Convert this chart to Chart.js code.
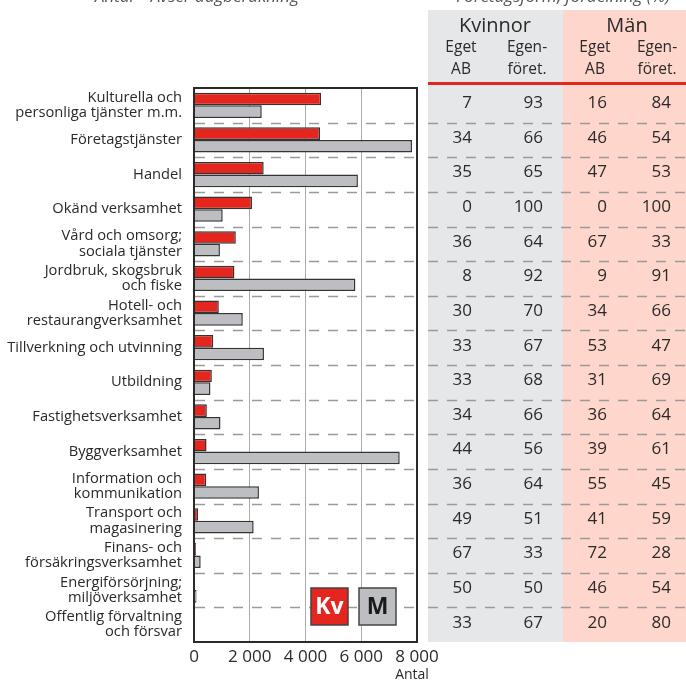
<!DOCTYPE html>
<html>
<head>
<meta charset="utf-8">
<script src="https://cdn.jsdelivr.net/npm/chart.js@4"></script>
<style>
  html, body { margin: 0; padding: 0; background: #fff; }
  #wrap { width: 686px; height: 682px; position: relative; }
</style>
</head>
<body>
<div id="wrap"><canvas id="chart"></canvas></div>
<script>
// ===== data =====
const categories = [
  ['Kulturella och', 'personliga tjänster m.m.'],
  'Företagstjänster',
  'Handel',
  'Okänd verksamhet',
  ['Vård och omsorg;', 'sociala tjänster'],
  ['Jordbruk, skogsbruk', 'och fiske'],
  ['Hotell- och', 'restaurangverksamhet'],
  'Tillverkning och utvinning',
  'Utbildning',
  'Fastighetsverksamhet',
  'Byggverksamhet',
  ['Information och', 'kommunikation'],
  ['Transport och', 'magasinering'],
  ['Finans- och', 'försäkringsverksamhet'],
  ['Energiförsörjning;', 'miljöverksamhet'],
  ['Offentlig förvaltning', 'och försvar']
];
const kvinnor = [4560, 4520, 2500, 2080, 1500, 1450, 890, 690, 640, 460, 450, 440, 150, 70, 25, 10];
const man     = [2430, 7820, 5880, 1030, 930, 5790, 1750, 2510, 590, 950, 7380, 2330, 2140, 240, 90, 10];

// fördelning (%)
const kvEgetAB   = [7, 34, 35, 0, 36, 8, 30, 33, 33, 34, 44, 36, 49, 67, 50, 33];
const kvEgenfor  = [93, 66, 65, 100, 64, 92, 70, 67, 68, 66, 56, 64, 51, 33, 50, 67];
const manEgetAB  = [16, 46, 47, 0, 67, 9, 34, 53, 31, 36, 39, 55, 41, 72, 46, 20];
const manEgenfor = [84, 54, 53, 100, 33, 91, 66, 47, 69, 64, 61, 45, 59, 28, 54, 80];

const xTicks = [0, 2000, 4000, 6000, 8000];

const RED = '#e4261e';
const GREY = '#bdbec1';
const INK = '#2b2a29';
const FONT = "'Open Sans', 'Noto Sans', sans-serif";

function fmt(v) {
  return String(v).replace(/\B(?=(\d{3})+(?!\d))/g, ' ');
}

// ===== plugin: frame, dashes, legend, table =====
const extras = {
  id: 'extras',
  beforeDatasetsDraw(chart) {
    const { ctx, chartArea: a, scales: { y } } = chart;
    ctx.save();
    // table backgrounds
    ctx.fillStyle = '#e6e7e9';
    ctx.fillRect(428, 10, 135, a.bottom - 10);
    ctx.fillStyle = '#fed6cc';
    ctx.fillRect(563, 10, 123, a.bottom - 10);
    // dashed row separators
    ctx.strokeStyle = '#9a9a9a';
    ctx.lineWidth = 1.5;
    ctx.setLineDash([10, 9]);
    for (let i = 0; i < categories.length - 1; i++) {
      const yy = Math.round((y.getPixelForValue(i) + y.getPixelForValue(i + 1)) / 2) + 0.5;
      ctx.beginPath();
      ctx.moveTo(a.left + 1, yy);
      ctx.lineTo(a.right, yy);
      ctx.stroke();
      ctx.beginPath();
      ctx.moveTo(428, yy);
      ctx.lineTo(686, yy);
      ctx.stroke();
    }
    ctx.restore();
  },
  afterDraw(chart) {
    const { ctx, chartArea: a, scales: { y } } = chart;
    ctx.save();
    // frame
    ctx.strokeStyle = INK;
    ctx.lineWidth = 2;
    ctx.strokeRect(a.left, a.top, a.right - a.left, a.bottom - a.top);

    // legend boxes
    const boxes = [
      { x: a.right - 106, fill: RED, text: 'Kv', color: '#fff' },
      { x: a.right - 58, fill: GREY, text: 'M', color: '#1a1a1a' }
    ];
    boxes.forEach(b => {
      ctx.fillStyle = b.fill;
      ctx.fillRect(b.x, 588, 37, 37);
      ctx.lineWidth = 1.5;
      ctx.strokeStyle = '#444';
      ctx.strokeRect(b.x, 588, 37, 37);
      ctx.fillStyle = b.color;
      ctx.font = "bold 23px 'Open Sans', sans-serif";
      ctx.textAlign = 'center';
      ctx.textBaseline = 'middle';
      ctx.fillText(b.text, b.x + 18.5, 607);
    });

    // axis title
    ctx.fillStyle = INK;
    ctx.font = '14px ' + FONT;
    ctx.textAlign = 'center';
    ctx.textBaseline = 'middle';
    ctx.fillText('Antal', 412, 675);

    // cut-off headings at top
    ctx.font = 'italic 17px ' + FONT;
    ctx.fillStyle = '#555';
    ctx.textBaseline = 'alphabetic';
    ctx.textAlign = 'left';
    ctx.fillText('Antal – Avser dagberäkning', 95, 2);
    ctx.textAlign = 'right';
    ctx.fillText('Företagsform, fördelning (%)', 670, 2);

    // red header rule
    ctx.fillStyle = RED;
    ctx.fillRect(428, 82, 258, 3);

    // table header
    ctx.fillStyle = INK;
    ctx.textAlign = 'center';
    ctx.textBaseline = 'middle';
    ctx.font = '20px ' + FONT;
    ctx.fillText('Kvinnor', 495, 26);
    ctx.fillText('Män', 627, 26);
    ctx.font = '15.5px ' + FONT;
    [[461, 'Eget', 'AB'], [527, 'Egen-', 'föret.'], [595, 'Eget', 'AB'], [657, 'Egen-', 'föret.']]
      .forEach(([x, l1, l2]) => {
        ctx.fillText(l1, x, 48);
        ctx.fillText(l2, x, 70);
      });

    // table values
    ctx.font = '17px ' + FONT;
    ctx.textAlign = 'right';
    const cols = [[472, kvEgetAB], [543, kvEgenfor], [607, manEgetAB], [671, manEgenfor]];
    categories.forEach((c, i) => {
      const yy = y.getPixelForValue(i) - 2;
      cols.forEach(([x, arr]) => ctx.fillText(String(arr[i]), x, yy));
    });
    ctx.restore();
  }
};

const ctx = document.getElementById('chart').getContext('2d');
new Chart(ctx, {
  type: 'bar',
  data: {
    labels: categories,
    datasets: [
      {
        label: 'Kv',
        data: kvinnor,
        backgroundColor: RED,
        borderColor: '#333',
        borderWidth: 1.5,
        categoryPercentage: 0.73,
        barPercentage: 1.0
      },
      {
        label: 'M',
        data: man,
        backgroundColor: GREY,
        borderColor: '#333',
        borderWidth: 1.5,
        categoryPercentage: 0.73,
        barPercentage: 1.0
      }
    ]
  },
  options: {
    indexAxis: 'y',
    responsive: true,
    maintainAspectRatio: false,
    animation: false,
    layout: { padding: { top: 88, right: 269, left: 0, bottom: 0 } },
    plugins: {
      legend: { display: false },
      tooltip: { enabled: false }
    },
    scales: {
      x: {
        min: 0,
        max: 8000,
        afterBuildTicks: (scale) => { scale.ticks = xTicks.map(v => ({ value: v })); },
        afterFit: (scale) => { scale.height = 40; },
        border: { display: false },
        grid: {
          color: (c) => (c.tick && (c.tick.value === 0 || c.tick.value === 8000)) ? 'rgba(0,0,0,0)' : '#ababab',
          lineWidth: 1,
          drawTicks: false
        },
        ticks: {
          padding: 5,
          color: INK,
          font: { family: FONT, size: 17 },
          callback: (v) => fmt(v),
          maxRotation: 0
        }
      },
      y: {
        afterFit: (scale) => { scale.width = 194; },
        border: { display: false },
        grid: { display: false, drawTicks: false },
        ticks: {
          padding: 12,
          color: INK,
          font: { family: FONT, size: 14.7, lineHeight: 1.03 }
        }
      }
    }
  },
  plugins: [extras]
});
</script>
</body>
</html>
